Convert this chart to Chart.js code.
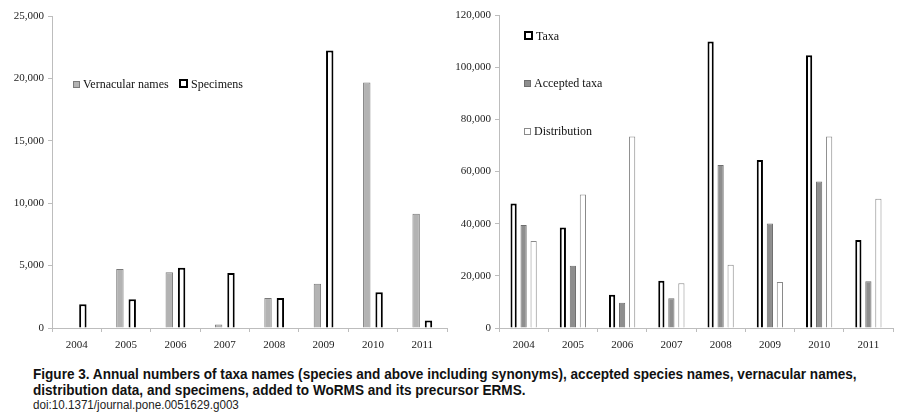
<!DOCTYPE html>
<html><head><meta charset="utf-8">
<script src="https://cdn.jsdelivr.net/npm/chart.js@4.4.1/dist/chart.umd.min.js"></script>
<style>
html,body{margin:0;padding:0;background:#fff;width:903px;height:417px;overflow:hidden;position:relative;font-family:"Liberation Serif",serif;}
#c1{position:absolute;left:0;top:0;}
#c2{position:absolute;left:450px;top:0;}
.leg{position:absolute;font-family:"Liberation Serif",serif;font-size:12px;color:#111;white-space:nowrap;}
.leg span.box{display:inline-block;width:5px;height:5px;margin-right:3px;vertical-align:0px;}
#cap{position:absolute;left:33px;top:366px;font-family:"Liberation Sans",sans-serif;color:#111;transform-origin:0 0;transform:scaleX(0.97);}
#cap .t{font-weight:bold;font-size:14px;line-height:16px;}
#cap .d{font-size:12px;line-height:15px;color:#222;}
</style></head><body>
<canvas id="c1" width="450" height="352"></canvas>
<canvas id="c2" width="453" height="352"></canvas>
<div id="cap"><div class="t">Figure 3. Annual numbers of taxa names (species and above including synonyms), accepted species names, vernacular names,<br>distribution data, and specimens, added to WoRMS and its precursor ERMS.</div><div class="d">doi:10.1371/journal.pone.0051629.g003</div></div>
<script>
const years = ["2004","2005","2006","2007","2008","2009","2010","2011"];
const vernacular = [0,4730,4460,290,2400,3550,19680,9150];
const specimens = [1900,2300,4830,4400,2400,22230,2870,610];
const taxa = [47700,38500,12700,18150,109850,64450,104600,33700];
const accepted = [39500,23900,9650,11450,62500,40050,56200,17950];
const distribution = [33400,51200,73450,17150,24250,17650,73450,49550];
const leftTicks = [0,5000,10000,15000,20000,25000];
const rightTicks = [0,20000,40000,60000,80000,100000,120000];

const fmt = v => v.toLocaleString('en-US');
Chart.defaults.font.family = "'Liberation Serif', serif";
const tickFont = {family:"'Liberation Serif', serif", size:11};

function opts(yMax, tickVals, yW, pad){
  return {
    responsive:false, animation:false,
    layout:{padding:pad},
    plugins:{legend:{display:false}, tooltip:{enabled:false}},
    scales:{
      x:{
        grid:{display:true, drawOnChartArea:false, tickLength:4, color:'#bdbdbd', offset:true},
        border:{display:true, color:'#bdbdbd', width:1},
        ticks:{font:tickFont, color:'#222', padding:7, maxRotation:0},
        afterFit:s=>{s.height=24;}
      },
      y:{
        min:0, max:yMax,
        afterBuildTicks:s=>{s.ticks=tickVals.map(v=>({value:v}));},
        grid:{display:true, drawOnChartArea:false, tickLength:4, color:'#bdbdbd'},
        border:{display:true, color:'#bdbdbd', width:1},
        ticks:{font:tickFont, color:'#222', padding:4, callback:v=>fmt(v)},
        afterFit:s=>{s.width=yW;}
      }
    }
  };
}

const ds1 = [
  {label:'Vernacular names', data:vernacular, backgroundColor:'#b3b3b3', borderColor:'#7a7a7a', borderWidth:1, categoryPercentage:0.5, barPercentage:0.6},
  {label:'Specimens', data:specimens, backgroundColor:'#ffffff', borderColor:'#000000', borderWidth:2, categoryPercentage:0.5, barPercentage:0.6}
];
const ds2 = [
  {label:'Taxa', data:taxa, backgroundColor:'#ffffff', borderColor:'#000000', borderWidth:2, categoryPercentage:0.61, barPercentage:0.62},
  {label:'Accepted taxa', data:accepted, backgroundColor:'#8e8e8e', borderColor:'#6e6e6e', borderWidth:1, categoryPercentage:0.61, barPercentage:0.62},
  {label:'Distribution', data:distribution, backgroundColor:'#ffffff', borderColor:'#8a8a8a', borderWidth:1, categoryPercentage:0.61, barPercentage:0.62}
];

function legend(datasets, positions){
  datasets.forEach((d,i)=>{
    const div=document.createElement('div'); div.className='leg';
    div.style.left=positions[i][0]+'px'; div.style.top=positions[i][1]+'px';
    const b=document.createElement('span'); b.className='box';
    b.style.background=d.backgroundColor;
    b.style.border=(d.borderWidth)+'px solid '+d.borderColor;
    div.appendChild(b); div.appendChild(document.createTextNode(d.label));
    document.body.appendChild(div);
  });
}
legend(ds1, [[73,77],[179,77]]);
legend(ds2, [[524,29],[524,76],[524,124]]);

function draw(){
  new Chart(document.getElementById('c1'), {type:'bar', data:{labels:years, datasets:ds1}, options:opts(25000,leftTicks,52,{top:16,right:3,left:0,bottom:0})});
  new Chart(document.getElementById('c2'), {type:'bar', data:{labels:years, datasets:ds2}, options:opts(120000,rightTicks,49,{top:15,right:10,left:0,bottom:0})});
}
Promise.all([document.fonts.load("11px 'Liberation Serif'")]).then(draw, draw);
</script>
</body></html>
